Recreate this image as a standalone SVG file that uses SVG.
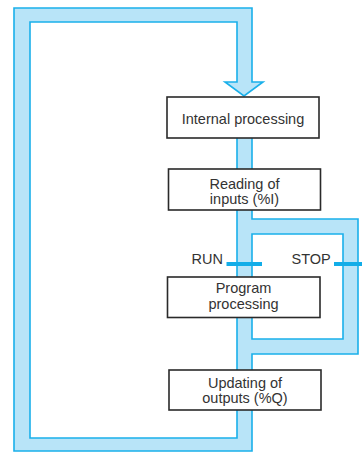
<svg xmlns="http://www.w3.org/2000/svg" width="362" height="452" viewBox="0 0 362 452">
<style>
.ch{fill:#b8e4f8;stroke:#1ab0ea;stroke-width:1.6;fill-rule:evenodd;stroke-linejoin:miter}
.bar{stroke:#12ade8;stroke-width:4}
.box{fill:#fff;stroke:#2a2a2a;stroke-width:1.6}
.t{font-family:"Liberation Sans",Arial,sans-serif;font-size:14.5px;fill:#333}
.m{text-anchor:middle}
</style>
<rect width="362" height="452" fill="#fff"/>
<g id="connectors">
<path class="ch" d="M14,8 L252,8 L252,82 L263,82 L244,96 L225,82 L237,82 L237,22 L30,22 L30,438 L237,438 L237,100 L252,100 L252,219 L358,219 L358,354 L252,354 L252,451 L14,451 Z M252,234 L343,234 L343,339 L252,339 Z"/>
<line class="bar" x1="226.5" y1="264" x2="262" y2="264"/>
<line class="bar" x1="334" y1="264" x2="362" y2="264"/>
</g>
<g id="internal">
<rect class="box" x="167" y="97" width="152" height="41"/>
<text class="t m" x="243" y="124">Internal processing</text>
</g>
<g id="reading">
<rect class="box" x="168.5" y="169" width="152" height="41"/>
<text class="t m" x="244.5" y="188.5">Reading of</text>
<text class="t m" x="244.5" y="204">inputs (%I)</text>
</g>
<g id="run">
<text class="t" x="223" y="263.5" text-anchor="end">RUN</text>
</g>
<g id="stop">
<text class="t" x="291.5" y="263.5">STOP</text>
</g>
<g id="program">
<rect class="box" x="167.5" y="277" width="152.5" height="40.5"/>
<text class="t m" x="243.5" y="293">Program</text>
<text class="t m" x="243.5" y="308.5">processing</text>
</g>
<g id="updating">
<rect class="box" x="169" y="370" width="152" height="40"/>
<text class="t m" x="245" y="387.5">Updating of</text>
<text class="t m" x="245" y="403">outputs (%Q)</text>
</g>
</svg>
